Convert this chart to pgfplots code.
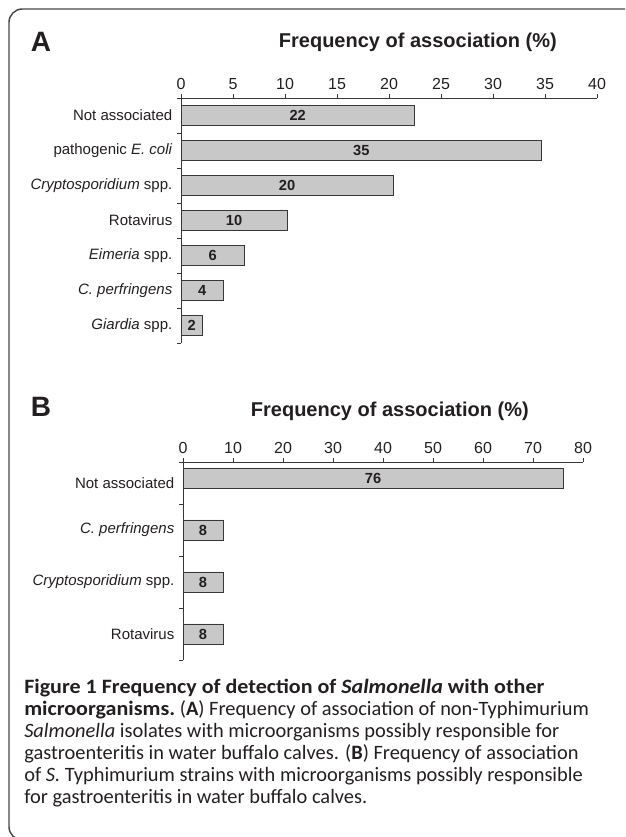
\documentclass[border=0pt]{standalone}
\usepackage{pgfplots}
\pgfplotsset{compat=1.18}
\usepackage{pgfplotstable}
\usepackage{fontspec}
\setmainfont{Liberation Sans}
\newfontfamily\capfont{Carlito}
\definecolor{barfill}{RGB}{200,200,200}
\definecolor{baredge}{RGB}{55,55,55}
\definecolor{txt}{RGB}{35,31,32}
\definecolor{frame}{RGB}{70,70,70}

\pgfplotstableread{
y v lab
0 22.45 22
1 34.69 35
2 20.41 20
3 10.20 10
4 6.12 6
5 4.08 4
6 2.04 2
}\dataA

\pgfplotstableread{
y v lab
0 76 76
1 8 8
2 8 8
3 8 8
}\dataB

\pgfplotsset{
  panel/.style={
    scale only axis,
    anchor=north west,
    y dir=reverse,
    axis x line*=top,
    axis y line*=left,
    axis line style={baredge, line width=0.7pt},
    tick style={baredge, line width=0.7pt},
    tick align=outside,
    major tick length=3pt,
    y tick label as interval,
    /pgf/number format/assume math mode=true,
    xticklabel style={font=\fontsize{12}{12}\selectfont, text=txt},
    yticklabel style={font=\fontsize{11.25}{12}\selectfont, text=txt},
    clip=false,
  },
  barsty/.style={xbar, fill=barfill, draw=baredge, line width=0.7pt},
  labsty/.style={draw=none, nodes near coords, point meta=explicit symbolic,
    every node near coord/.append style={anchor=center, font=\bfseries\fontsize{11}{11}\selectfont, text=txt}},
}
\newcommand{\bx}[1]{\scalebox{1.08}[1]{\bfseries #1}}

\begin{document}
\begin{tikzpicture}
\useasboundingbox (0,0) rectangle (468.75pt,-627.75pt);
\begin{scope}
\clip (0,0) rectangle (468.75pt,-627.75pt);
\draw[frame, line width=1.1pt, rounded corners=10pt] (6.75pt,-6.75pt) rectangle (490pt,-630pt);
\end{scope}

% Panel A
\node[anchor=base west, font=\bfseries\fontsize{21}{21}\selectfont, text=txt, inner sep=0] at (23pt,-39pt) {A};
\node[anchor=base west, font=\bfseries\fontsize{15}{15}\selectfont, text=txt, inner sep=0] at (209pt,-35.5pt) {Frequency of association (\%)};
\begin{axis}[panel,
  at={(135.75pt,-73.5pt)},
  width=312pt, height=183.75pt,
  xmin=0, xmax=40, ymin=-0.5, ymax=6.5,
  xtick={0,5,10,15,20,25,30,35,40},
  ytick={-0.5,0.5,1.5,2.5,3.5,4.5,5.5,6.5},
  yticklabels={Not associated, pathogenic \textit{E. coli}, \textit{Cryptosporidium} spp., Rotavirus, \textit{Eimeria} spp., \textit{C. perfringens}, \textit{Giardia} spp.},
]
\addplot[barsty, bar width=0.571] table[x=v, y=y] {\dataA};
\addplot[labsty] table[x expr=\thisrow{v}/2, y=y, meta=lab] {\dataA};
\end{axis}

% Panel B
\node[anchor=base west, font=\bfseries\fontsize{21}{21}\selectfont, text=txt, inner sep=0] at (23pt,-312.5pt) {B};
\node[anchor=base west, font=\bfseries\fontsize{15}{15}\selectfont, text=txt, inner sep=0] at (188pt,-312.5pt) {Frequency of association (\%)};
\begin{axis}[panel,
  at={(137.25pt,-346.5pt)},
  width=300pt, height=148.5pt,
  xmin=0, xmax=80, ymin=-0.3077, ymax=3.5,
  xtick={0,10,20,30,40,50,60,70,80},
  ytick={-0.3077,0.5,1.5,2.5,3.5},
  yticklabels={Not associated, \textit{C. perfringens}, \textit{Cryptosporidium} spp., Rotavirus},
]
\addplot[barsty, bar width=0.385] table[x=v, y=y] {\dataB};
\addplot[labsty] table[x expr=\thisrow{v}/2, y=y, meta=lab] {\dataB};
\end{axis}

% Caption
\begin{scope}[every node/.style={anchor=base west, inner sep=0, text=txt, font=\capfont\fontsize{15.3}{17}\selectfont}]
\node at (18pt,-520pt) {\bx{Figure 1 Frequency of detection of \textit{Salmonella} with other}};
\node at (18pt,-536.5pt) {\bx{microorganisms.} (\textbf{A}) Frequency of association of non-Typhimurium};
\node at (18pt,-553pt) {\textit{Salmonella} isolates with microorganisms possibly responsible for};
\node at (18pt,-569.5pt) {gastroenteritis in water buffalo calves. (\textbf{B}) Frequency of association};
\node at (18pt,-586pt) {of \textit{S.} Typhimurium strains with microorganisms possibly responsible};
\node at (18pt,-602.5pt) {for gastroenteritis in water buffalo calves.};
\end{scope}
\end{tikzpicture}
\end{document}
